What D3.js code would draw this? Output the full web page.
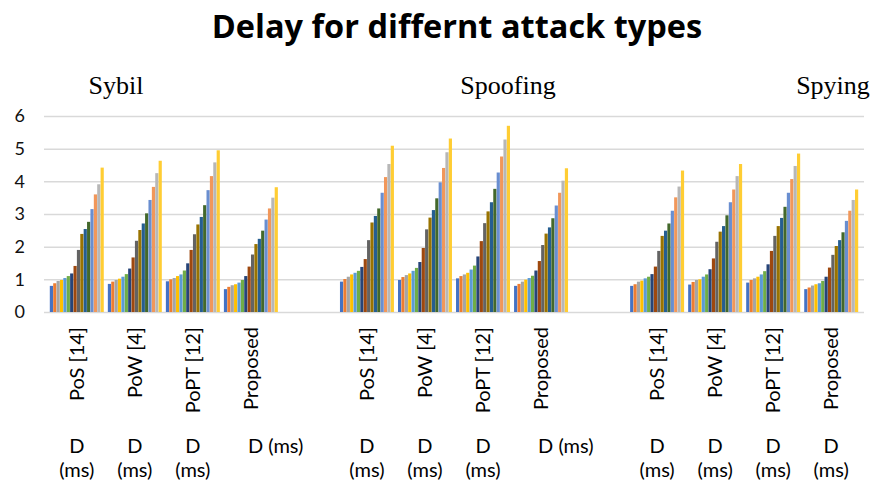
<!DOCTYPE html>
<html>
<head>
<meta charset="utf-8">
<script src="https://cdn.jsdelivr.net/npm/d3@7"></script>
<style>
  html, body { margin: 0; padding: 0; background: #fff; }
  svg { display: block; }
</style>
</head>
<body>
<svg id="chart" width="887" height="488"></svg>
<script>
// ---------------- DATA ----------------
const attacks = ["Sybil", "Spoofing", "Spying"];
const methods = ["PoS [14]", "PoW [4]", "PoPT [12]", "Proposed"];
const yTicks = [0, 1, 2, 3, 4, 5, 6];
const unitLabel = "D (ms)";

// 16 series per method (bars inside each group)
const sybil = [
  [0.80, 0.88, 0.95, 0.98, 1.04, 1.10, 1.18, 1.41, 1.90, 2.39, 2.54, 2.76, 3.15, 3.60, 3.91, 4.42],
  [0.86, 0.93, 0.98, 1.02, 1.08, 1.16, 1.33, 1.67, 2.18, 2.51, 2.71, 3.02, 3.43, 3.83, 4.25, 4.63],
  [0.94, 1.00, 1.04, 1.10, 1.15, 1.27, 1.49, 1.90, 2.38, 2.68, 2.91, 3.27, 3.73, 4.16, 4.58, 4.95],
  [0.70, 0.77, 0.82, 0.85, 0.90, 0.98, 1.10, 1.39, 1.76, 2.08, 2.24, 2.49, 2.83, 3.17, 3.50, 3.82]
];
const spoofing = [
  [0.93, 1.01, 1.08, 1.15, 1.20, 1.26, 1.38, 1.62, 2.20, 2.74, 2.94, 3.17, 3.65, 4.13, 4.53, 5.09],
  [0.98, 1.07, 1.13, 1.18, 1.26, 1.35, 1.53, 1.96, 2.53, 2.89, 3.12, 3.48, 3.97, 4.41, 4.89, 5.31],
  [1.03, 1.10, 1.15, 1.20, 1.30, 1.42, 1.70, 2.17, 2.72, 3.08, 3.36, 3.77, 4.27, 4.76, 5.28, 5.70],
  [0.80, 0.86, 0.93, 0.99, 1.04, 1.11, 1.27, 1.56, 2.05, 2.40, 2.59, 2.87, 3.26, 3.65, 4.02, 4.40]
];
const spying = [
  [0.80, 0.85, 0.93, 0.96, 1.03, 1.08, 1.16, 1.39, 1.87, 2.33, 2.49, 2.71, 3.10, 3.51, 3.84, 4.33],
  [0.84, 0.92, 0.98, 1.00, 1.08, 1.15, 1.31, 1.64, 2.15, 2.46, 2.63, 2.96, 3.36, 3.75, 4.16, 4.53],
  [0.90, 0.98, 1.03, 1.08, 1.15, 1.25, 1.46, 1.87, 2.33, 2.63, 2.88, 3.22, 3.65, 4.07, 4.47, 4.85],
  [0.70, 0.75, 0.81, 0.85, 0.88, 0.95, 1.08, 1.36, 1.75, 2.02, 2.20, 2.44, 2.79, 3.10, 3.43, 3.75]
];
const seriesColors = [
  "#4472C4", "#ED7D31", "#A5A5A5", "#FFC000", "#5B9BD5", "#70AD47",
  "#264478", "#9E480E", "#636363", "#997300", "#255E91", "#43682B",
  "#698ED0", "#F1975A", "#B7B7B7", "#FFCD33"
];

// ---------------- BUILD ----------------
const attackData = [sybil, spoofing, spying];
const categories = [];
attacks.forEach((a, ai) => {
  methods.forEach((m, mi) => categories.push({ key: a + "|" + mi, attack: a, method: m, mi, values: attackData[ai][mi], last: ai }));
  if (ai < attacks.length - 1) categories.push({ key: "gap" + ai, gap: true });
});

const svg = d3.select("#chart");
const plot = { left: 44, right: 864, top: 116, bottom: 312 };

const x = d3.scaleBand()
  .domain(categories.map(c => c.key))
  .range([plot.left, plot.right])
  .paddingInner(0.07)
  .paddingOuter(0.1);

const y = d3.scaleLinear().domain([0, 6]).range([plot.bottom, plot.top]);

const xs = d3.scaleBand()
  .domain(d3.range(seriesColors.length))
  .range([0, x.bandwidth()])
  .paddingInner(0.06);

const sans = "Lato, 'Open Sans', sans-serif";

// Title
svg.append("text")
  .attr("x", 457).attr("y", 38)
  .attr("text-anchor", "middle")
  .style("font-family", "'Open Sans', Lato, sans-serif")
  .style("font-weight", "bold")
  .style("font-size", "32.5px")
  .attr("fill", "#000")
  .text("Delay for differnt attack types");

// Attack labels at top
const attackLabelX = [116, 508, 833];
svg.selectAll("text.attack")
  .data(attacks)
  .join("text")
  .attr("class", "attack")
  .attr("x", (d, i) => attackLabelX[i])
  .attr("y", 94)
  .attr("text-anchor", "middle")
  .style("font-family", "'Liberation Serif', 'Times New Roman', serif")
  .style("font-size", "26px")
  .attr("fill", "#000")
  .text(d => d);

// Gridlines + y labels
const gAxisY = svg.append("g")
  .attr("transform", `translate(${plot.left},0)`)
  .call(d3.axisLeft(y).tickValues(yTicks).tickSize(-(plot.right - plot.left)).tickFormat(d3.format("d")).tickPadding(19));
gAxisY.select(".domain").remove();
gAxisY.selectAll(".tick line").attr("stroke", "#d9d9d9").attr("stroke-width", 1.5);
gAxisY.selectAll(".tick text")
  .attr("fill", "#111")
  .style("font-family", sans)
  .style("font-size", "18px");

// Bars
const groups = svg.append("g").selectAll("g.cat")
  .data(categories.filter(c => !c.gap))
  .join("g")
  .attr("class", "cat")
  .attr("transform", d => `translate(${x(d.key)},0)`);

groups.selectAll("rect")
  .data(d => d.values.map((v, i) => ({ v, i })))
  .join("rect")
  .attr("x", d => xs(d.i))
  .attr("width", xs.bandwidth())
  .attr("y", d => y(d.v))
  .attr("height", d => y(0) - y(d.v))
  .attr("fill", d => seriesColors[d.i]);

// Rotated method labels
groups.append("text")
  .attr("transform", d => `translate(${x.bandwidth() / 2 + 7},327) rotate(-90)`)
  .attr("text-anchor", "end")
  .style("font-family", sans)
  .style("font-size", "20px")
  .attr("fill", "#000")
  .text(d => d.method);

// Unit labels
groups.each(function(d) {
  const g = d3.select(this);
  const single = d.mi === methods.length - 1 && d.last < attacks.length - 1;
  const t = g.append("text")
    .style("font-family", sans)
    .style("font-size", "20px")
    .attr("fill", "#000");
  if (single) {
    t.attr("x", x.bandwidth() / 2 - 3).attr("y", 453).attr("text-anchor", "start").text(unitLabel);
  } else {
    const parts = unitLabel.split(" ");
    t.attr("text-anchor", "middle");
    t.append("tspan").attr("x", x.bandwidth() / 2).attr("y", 453).text(parts[0]);
    t.append("tspan").attr("x", x.bandwidth() / 2).attr("y", 477).text(parts[1]);
  }
});
</script>
</body>
</html>
